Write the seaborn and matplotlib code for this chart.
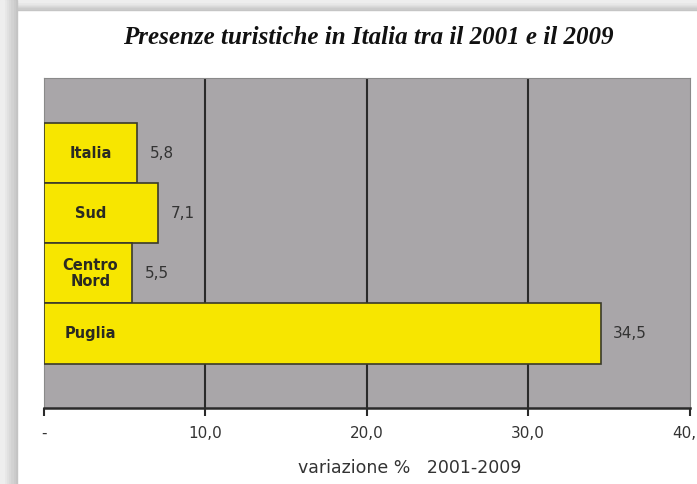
import matplotlib
matplotlib.use("Agg")
import matplotlib.pyplot as plt
import matplotlib.patches as mpatches
import seaborn as sns
import pandas as pd

categories = ["Italia", "Sud", "Centro\nNord", "Puglia"]
values = [5.8, 7.1, 5.5, 34.5]
value_labels = ["5,8", "7,1", "5,5", "34,5"]
xticks = [0, 10, 20, 30, 40]
xtick_labels = ["-", "10,0", "20,0", "30,0", "40,0"]

df = pd.DataFrame({"cat": categories, "val": values})

sns.set_theme(style="white")
plt.rcParams["font.family"] = ["DejaVu Sans"]

fig = plt.figure(figsize=(6.97, 4.84), dpi=100)
fig.patch.set_facecolor("white")

# shadowed frame (top and left)
W, H = 697, 484
shades = ["#c4c4c4", "#cbcbcb", "#d2d2d2", "#d9d9d9", "#e0e0e0", "#e7e7e7", "#eeeeee"]
for i, c in enumerate(shades):
    hh = (10 - i * 1.3) / H
    fig.patches.append(mpatches.Rectangle((0, 1 - hh), 1, hh,
                                          transform=fig.transFigure, color=c, zorder=0))
for i, c in enumerate(shades):
    fig.patches.append(mpatches.Rectangle((0, 0), (17 - i * 2.2) / W, 1,
                                          transform=fig.transFigure, color=c, zorder=0))

ax = fig.add_axes([43.5 / W, (H - 408) / H, (689.5 - 43.5) / W, (408 - 78) / H])
ax.set_facecolor("#a9a6a9")

sns.barplot(data=df, x="val", y="cat", orient="h", order=categories,
            color="#f7e600", saturation=1, width=1.0,
            edgecolor="#3a3a2a", linewidth=1.2, ax=ax, zorder=3)

ax.set_xlim(0, 40)
ax.set_ylim(4.24, -1.25)

for x in [10, 20, 30]:
    ax.axvline(x, color="#2a2a2a", lw=1.5, zorder=1)

for i, (cat, v, lab) in enumerate(zip(categories, values, value_labels)):
    ax.text(2.9, i, cat, ha="center", va="center", fontsize=10.5, fontweight="bold",
            color="#2a2a22", zorder=4, linespacing=1.05)
    ax.annotate(lab, (v, i), xytext=(9, 0), textcoords="offset points",
                ha="left", va="center", fontsize=11, color="#333333", zorder=4)

ax.set_yticks([])
ax.set_ylabel("")
ax.set_xticks(xticks)
ax.set_xticklabels(xtick_labels, fontsize=11, color="#333333")
ax.tick_params(axis="x", direction="out", length=6, width=1.5, color="#2a2a2a", pad=7, bottom=True)
ax.set_xlabel("variazione %   2001-2009", fontsize=12.5, color="#333333", labelpad=9)
ax.xaxis.set_label_coords((410 - 43.5) / 646, -0.155)

for s in ["top", "left", "right"]:
    ax.spines[s].set_color("#8a8a8a")
    ax.spines[s].set_linewidth(0.8)
ax.spines["bottom"].set_color("#2a2a2a")
ax.spines["bottom"].set_linewidth(1.8)

fig.text(0.528, 1 - 37 / H, "Presenze turistiche in Italia tra il 2001 e il 2009",
         ha="center", va="center", fontsize=18, fontstyle="italic", fontweight="bold",
         family=["Liberation Serif", "DejaVu Serif"], color="#111111")

fig.savefig("out.png", dpi=100)
